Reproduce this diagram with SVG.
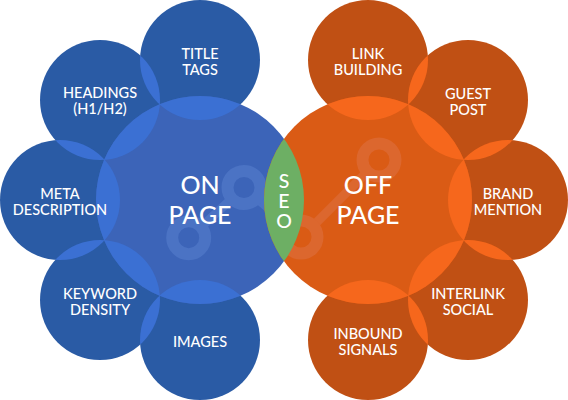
<svg xmlns="http://www.w3.org/2000/svg" width="568" height="400" viewBox="0 0 568 400">
<style>
.sb{fill:#2a5ba5}.bb{fill:#3c64b8}.ob{fill:#3b70d3}
.so{fill:#c05014}.bo{fill:#da5b15}.oo{fill:#f6671c}
.rb{fill:none;stroke:#4b73c4;stroke-width:12}
.ro{fill:none;stroke:#dc672e;stroke-width:12}
.lb{fill:none;stroke:#4b73c4;stroke-width:9}
.lo{fill:none;stroke:#dc672e;stroke-width:9}
text{font-family:"Lato","Noto Sans",sans-serif;fill:#fff;text-anchor:middle}
.s{font-size:14.500px;font-weight:500}
.b{font-size:25px;font-weight:500}
.v{font-size:19.500px;font-weight:500}
</style>
<defs>
<clipPath id="cL"><circle cx="200" cy="200" r="104"/></clipPath>
<clipPath id="cR"><circle cx="368" cy="200" r="104"/></clipPath>
<clipPath id="c1"><circle cx="200" cy="60" r="60"/></clipPath>
<clipPath id="c2"><circle cx="100" cy="100" r="60"/></clipPath>
<clipPath id="c3"><circle cx="60" cy="200" r="60"/></clipPath>
<clipPath id="c4"><circle cx="100" cy="300" r="60"/></clipPath>
<clipPath id="c6"><circle cx="368" cy="60" r="60"/></clipPath>
<clipPath id="c7"><circle cx="468" cy="100" r="60"/></clipPath>
<clipPath id="c8"><circle cx="508" cy="200" r="60"/></clipPath>
<clipPath id="c9"><circle cx="468" cy="300" r="60"/></clipPath>
</defs>
<g id="title-tags"><circle class="sb" cx="200" cy="60" r="60"/></g>
<g id="headings"><circle class="sb" cx="100" cy="100" r="60"/></g>
<g id="meta"><circle class="sb" cx="60" cy="200" r="60"/></g>
<g id="keyword"><circle class="sb" cx="100" cy="300" r="60"/></g>
<g id="images"><circle class="sb" cx="200" cy="340" r="60"/></g>
<g id="link"><circle class="so" cx="368" cy="60" r="60"/></g>
<g id="guest"><circle class="so" cx="468" cy="100" r="60"/></g>
<g id="brand"><circle class="so" cx="508" cy="200" r="60"/></g>
<g id="interlink"><circle class="so" cx="468" cy="300" r="60"/></g>
<g id="inbound"><circle class="so" cx="368" cy="340" r="60"/></g>
<g id="on-page"><circle class="bb" cx="200" cy="200" r="104"/>
<g clip-path="url(#cL)"><path class="lb" d="M200.500 227.500L231.500 199M256 197.500L280 218"/><circle class="rb" cx="188.700" cy="237.700" r="16.500"/><circle class="rb" cx="244" cy="187.500" r="16.500"/></g></g>
<g id="off-page"><circle class="bo" cx="368" cy="200" r="104"/>
<g clip-path="url(#cR)"><path class="lo" d="M313.500 225.500L367.500 171.500"/><circle class="ro" cx="301" cy="237" r="16.500"/><circle class="ro" cx="379" cy="160" r="16.500"/></g></g>
<g id="overlaps">
<g clip-path="url(#cL)"><circle class="ob" cx="200" cy="60" r="60"/><circle class="ob" cx="100" cy="100" r="60"/><circle class="ob" cx="60" cy="200" r="60"/><circle class="ob" cx="100" cy="300" r="60"/><circle class="ob" cx="200" cy="340" r="60"/></g>
<circle class="ob" cx="100" cy="100" r="60" clip-path="url(#c1)"/>
<circle class="ob" cx="60" cy="200" r="60" clip-path="url(#c2)"/>
<circle class="ob" cx="100" cy="300" r="60" clip-path="url(#c3)"/>
<circle class="ob" cx="200" cy="340" r="60" clip-path="url(#c4)"/>
<g clip-path="url(#cR)"><circle class="oo" cx="368" cy="60" r="60"/><circle class="oo" cx="468" cy="100" r="60"/><circle class="oo" cx="508" cy="200" r="60"/><circle class="oo" cx="468" cy="300" r="60"/><circle class="oo" cx="368" cy="340" r="60"/></g>
<circle class="oo" cx="468" cy="100" r="60" clip-path="url(#c6)"/>
<circle class="oo" cx="508" cy="200" r="60" clip-path="url(#c7)"/>
<circle class="oo" cx="468" cy="300" r="60" clip-path="url(#c8)"/>
<circle class="oo" cx="368" cy="340" r="60" clip-path="url(#c9)"/>
</g>
<g id="seo"><circle cx="368" cy="200" r="104" fill="#6daf64" clip-path="url(#cL)"/><text class="v" x="284" y="188">S</text><text class="v" x="284" y="208">E</text><text class="v" x="284" y="228">O</text></g>
<g id="labels">
<text class="s" x="200" y="58.500">TITLE</text><text class="s" x="200" y="74.500">TAGS</text>
<text class="s" x="100" y="97.500">HEADINGS</text><text class="s" x="100" y="113.500">(H1/H2)</text>
<text class="s" x="60" y="198.500">META</text><text class="s" x="60" y="214.500">DESCRIPTION</text>
<text class="s" x="100" y="298.500">KEYWORD</text><text class="s" x="100" y="314.500">DENSITY</text>
<text class="s" x="200" y="346.500">IMAGES</text>
<text class="s" x="368" y="58.500">LINK</text><text class="s" x="368" y="74.500">BUILDING</text>
<text class="s" x="468" y="98.500">GUEST</text><text class="s" x="468" y="114.500">POST</text>
<text class="s" x="508" y="198.500">BRAND</text><text class="s" x="508" y="214.500">MENTION</text>
<text class="s" x="468" y="298.500">INTERLINK</text><text class="s" x="468" y="314.500">SOCIAL</text>
<text class="s" x="368" y="338.500">INBOUND</text><text class="s" x="368" y="354.500">SIGNALS</text>
<text class="b" x="200" y="194">ON</text><text class="b" x="200" y="224">PAGE</text>
<text class="b" x="368" y="194">OFF</text><text class="b" x="368" y="224">PAGE</text>
</g>
</svg>
